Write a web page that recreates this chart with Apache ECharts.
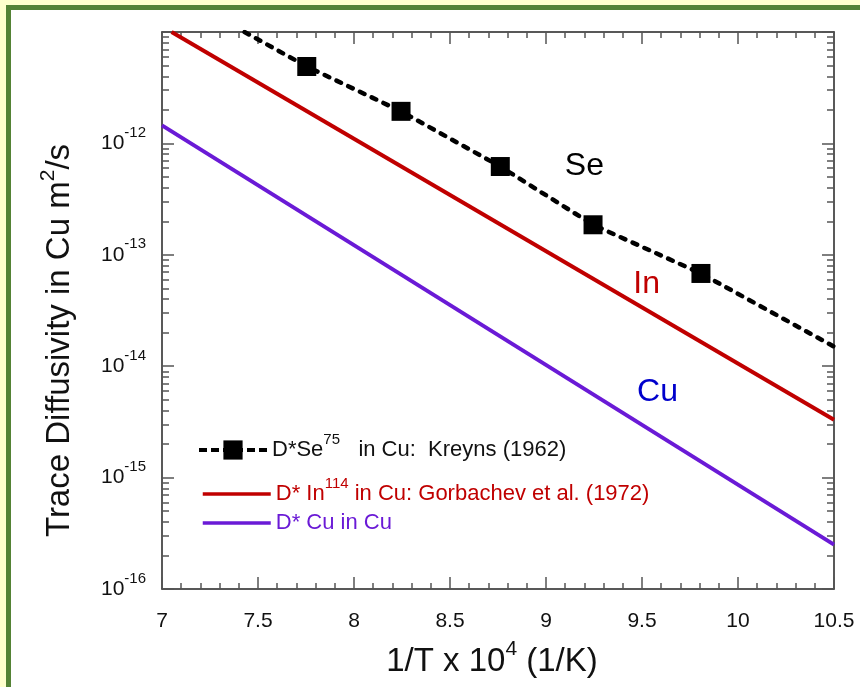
<!DOCTYPE html>
<html>
<head>
<meta charset="utf-8">
<title>Trace diffusivity in Cu</title>
<script src="https://cdn.jsdelivr.net/npm/echarts@6.0.0/dist/echarts.min.js"></script>
<style>
  html, body { margin: 0; padding: 0; background: #fff; }
  .frame { position: relative; width: 860px; height: 687px; overflow: hidden; background: #fff; }
  .frame .bg-top { position: absolute; left: 0; top: 0; width: 860px; height: 5px; background: #ffffcc; }
  .frame .bg-left { position: absolute; left: 0; top: 0; width: 6px; height: 687px; background: #ffffcc; }
  .frame .green-top { position: absolute; left: 6px; top: 5px; width: 854px; height: 5px; background: #548235; }
  .frame .green-left { position: absolute; left: 6px; top: 5px; width: 5px; height: 682px; background: #548235; }
  #chart { position: absolute; left: 0; top: 0; width: 860px; height: 687px; }
</style>
</head>
<body>
<div class="frame">
  <div class="bg-top"></div>
  <div class="bg-left"></div>
  <div class="green-top"></div>
  <div class="green-left"></div>
  <div id="chart"></div>
</div>
<script>
// x: 1/T x 10^4 (1/K), y: D (m^2/s)
var xMin = 7
var xMax = 10.5
var yMin = 1e-16
var yMax = 1e-11

// D*Se75 in Cu, Kreyns (1962) - measured points
var seX = [7.754, 8.245, 8.762, 9.245, 9.807]
var seY = [4.9e-12, 1.94e-12, 6.2e-13, 1.86e-13, 6.8e-14]
// ends of the dashed fit line
var seFitX = [7.43, 10.5]
var seFitY = [1e-11, 1.5e-14]

// D* In114 in Cu, Gorbachev et al. (1972)
var inX = [7.05, 10.5]
var inY = [1e-11, 3.3e-15]

// D* Cu in Cu
var cuX = [7, 10.5]
var cuY = [1.45e-12, 2.5e-16]

// decade ticks on the log axis
var yDecades = [1e-16, 1e-15, 1e-14, 1e-13, 1e-12, 1e-11]

// text notes next to the lines
var noteNames = ['Se', 'In', 'Cu']
var noteX = [9.2, 9.524, 9.581]
var noteY = [6.3e-13, 5.5e-14, 5.8e-15]

var FONT = 'Liberation Sans, Arial, Helvetica, sans-serif'
var RED = '#c00000'
var PURPLE = '#6a1ad6'
var noteColors = ['#000000', RED, '#0000cc']

// 2..9 x 10^n minor ticks
var yMinors = []
for (var i = 0; i < yDecades.length - 1; i++) {
  for (var k = 2; k <= 9; k++) {
    yMinors.push(k * yDecades[i])
  }
}

function pairs (xs, ys) {
  return xs.map(function (x, i) { return [x, ys[i]] })
}

var seData = [{ value: [seFitX[0], seFitY[0]], symbol: 'none' }]
  .concat(pairs(seX, seY).map(function (p) { return { value: p } }))
  .concat([{ value: [seFitX[1], seFitY[1]], symbol: 'none' }])

var lineColor = '#222'
var tickColor = '#555'

function xAxisOpt (pos, showLabel) {
  return {
    type: 'value',
    position: pos,
    min: xMin,
    max: xMax,
    interval: 0.5,
    splitLine: { show: false },
    axisLine: { show: true, onZero: false, lineStyle: { color: lineColor, width: 1.5 } },
    axisTick: { show: true, inside: true, length: 12, lineStyle: { color: tickColor, width: 1.5 } },
    minorTick: { show: true, splitNumber: 5, length: 6, lineStyle: { color: tickColor, width: 1.5 } },
    axisLabel: {
      show: showLabel,
      margin: 22,
      color: '#111',
      fontFamily: FONT,
      fontSize: 21
    },
    name: showLabel ? '{b|1/T x 10}{s|4}{b| (1/K)}' : '',
    nameLocation: 'middle',
    nameGap: 50,
    nameTextStyle: {
      padding: [0, 12, 0, 0],
      rich: {
        b: { fontFamily: FONT, fontSize: 33, color: '#111', lineHeight: 46, verticalAlign: 'middle' },
        s: { fontFamily: FONT, fontSize: 21, color: '#111', lineHeight: 21, verticalAlign: 'top' }
      }
    }
  }
}

function yAxisOpt (pos, ticks, len, showLabel, showLine) {
  return {
    type: 'log',
    logBase: 10,
    position: pos,
    min: yMin,
    max: yMax,
    splitLine: { show: false },
    axisLine: { show: showLine, onZero: false, lineStyle: { color: lineColor, width: 1.5 } },
    axisTick: { show: true, inside: true, length: len, customValues: ticks, lineStyle: { color: tickColor, width: 1.5 } },
    axisLabel: {
      show: showLabel,
      customValues: yDecades,
      margin: 16,
      formatter: function (v) {
        var e = Math.round(Math.log10(v))
        if (e === -11) return ''
        return '{b|10}{s|' + e + '}'
      },
      rich: {
        b: { fontFamily: FONT, fontSize: 21, color: '#111', lineHeight: 36, verticalAlign: 'middle' },
        s: { fontFamily: FONT, fontSize: 15, color: '#111', lineHeight: 15, verticalAlign: 'top' }
      }
    },
    name: showLabel ? '{b|Trace Diffusivity in Cu m}{s|2}{b|/s}' : '',
    nameLocation: 'middle',
    nameGap: 80,
    nameTextStyle: {
      padding: [0, 60, 0, 0],
      rich: {
        b: { fontFamily: FONT, fontSize: 33, color: '#111', lineHeight: 44, verticalAlign: 'middle' },
        s: { fontFamily: FONT, fontSize: 21, color: '#111', lineHeight: 21, verticalAlign: 'top' }
      }
    }
  }
}

function legendOpt (name, left, top, color, text, iconLine, hideSymbol) {
  var opt = {
    data: [name],
    left: left,
    top: top,
    padding: 0,
    itemWidth: 68,
    itemHeight: 24,
    selectedMode: false,
    lineStyle: iconLine,
    formatter: function () { return text },
    textStyle: {
      color: color,
      rich: {
        b: { fontFamily: FONT, fontSize: 22, color: color, lineHeight: 36, verticalAlign: 'middle' },
        s: { fontFamily: FONT, fontSize: 15, color: color, lineHeight: 15, verticalAlign: 'top' }
      }
    }
  }
  if (hideSymbol) {
    // plain line icon, no dot in the middle
    opt.itemStyle = { color: 'transparent', borderWidth: 0, opacity: 0 }
  }
  return opt
}

var chart = echarts.init(document.getElementById('chart'))

var option = {
  animation: false,
  backgroundColor: 'transparent',
  grid: { left: 162, right: 26, top: 32, bottom: 98, containLabel: false },
  xAxis: [xAxisOpt('bottom', true), xAxisOpt('top', false)],
  yAxis: [
    yAxisOpt('left', yDecades, 12, true, true),
    yAxisOpt('left', yMinors, 7, false, false),
    yAxisOpt('right', yDecades, 12, false, true),
    yAxisOpt('right', yMinors, 7, false, false)
  ],
  legend: [
    legendOpt('Se', 197, 432, '#111', '{b|D*Se}{s|75}{b|   in Cu:  Kreyns (1962)}',
      { width: 4, type: [8, 4], cap: 'butt' }, false),
    legendOpt('In', 201, 476, RED, '{b|D* In}{s|114}{b| in Cu: Gorbachev et al. (1972)}',
      { width: 3.5, type: 'solid' }, true),
    legendOpt('Cu', 201, 512, PURPLE, '{b|D* Cu in Cu}',
      { width: 3.5, type: 'solid' }, true)
  ],
  series: [
    {
      name: 'Cu',
      type: 'line',
      data: pairs(cuX, cuY),
      symbol: 'none',
      lineStyle: { color: PURPLE, width: 4 },
      itemStyle: { color: PURPLE },
      z: 2
    },
    {
      name: 'In',
      type: 'line',
      data: pairs(inX, inY),
      symbol: 'none',
      lineStyle: { color: RED, width: 4 },
      itemStyle: { color: RED },
      z: 2
    },
    {
      name: 'Se',
      type: 'line',
      data: seData,
      symbol: 'rect',
      symbolSize: 19,
      showAllSymbol: true,
      lineStyle: { color: '#000', width: 4.5, type: [5, 8], cap: 'round' },
      itemStyle: { color: '#000' },
      z: 3
    },
    {
      name: 'notes',
      type: 'scatter',
      silent: true,
      symbolSize: 1,
      itemStyle: { color: 'rgba(0,0,0,0)' },
      data: noteX.map(function (x, i) {
        return {
          value: [x, noteY[i]],
          name: noteNames[i],
          label: { color: noteColors[i] }
        }
      }),
      label: {
        show: true,
        position: 'inside',
        formatter: '{b}',
        fontFamily: FONT,
        fontSize: 32,
        opacity: 1,
        textBorderWidth: 0
      },
      z: 4
    }
  ]
}

chart.setOption(option)
window.addEventListener('resize', function () {
  chart.resize()
})
</script>
</body>
</html>
